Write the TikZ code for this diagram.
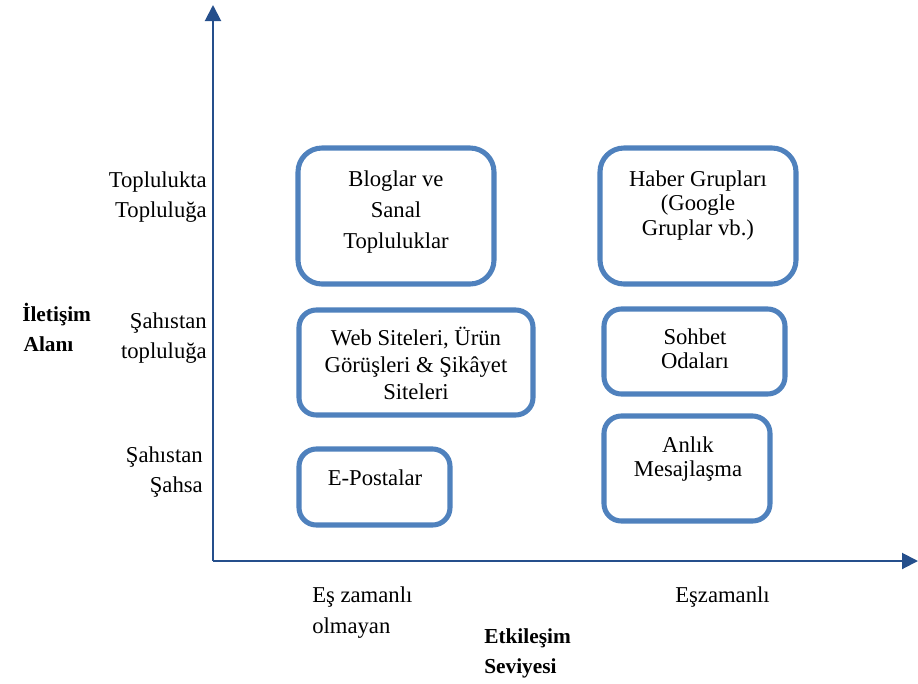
\documentclass[tikz,border=0pt]{standalone}
\usepackage{fontspec}
\setmainfont{Liberation Serif}
\usetikzlibrary{arrows.meta,fit}
\definecolor{boxblue}{RGB}{79,129,189}
\definecolor{axisblue}{RGB}{37,79,140}
\begin{document}
\begin{tikzpicture}[x=0.75pt,y=-0.75pt,
  cell/.style={draw=boxblue,line width=3.8pt,rounded corners=18pt,inner sep=0pt},
  smallcell/.style={cell,rounded corners=13pt},
  axis/.style={draw=axisblue,line width=1.5pt,-{Triangle[width=12pt,length=12pt]}},
  txt/.style={inner sep=0pt,align=center,font=\fontsize{17}{#1}\selectfont},
  txt/.default=22,
  lbl/.style={inner sep=0pt,align=right,anchor=east,font=\fontsize{17}{22.5}\selectfont},
  bold/.style={inner sep=0pt,align=left,font=\fontsize{16}{23}\selectfont\bfseries}]
\useasboundingbox (0,0) rectangle (918,683);
% axes
\coordinate (O) at (213,561);
\coordinate (ytip) at (213,5);
\coordinate (xtip) at (918,561);
\draw[axis] (O) -- (ytip);
\draw[axis] (O) -- (xtip);
% boxes
\node[cell,fit={(298,148)(494,284)}] (blog) {};
\node[cell,fit={(600,148)(796,284)}] (haber) {};
\node[smallcell,fit={(299,310)(533,415)}] (web) {};
\node[smallcell,fit={(299,449)(450,525)}] (email) {};
\node[smallcell,fit={(604,309)(785,394)}] (sohbet) {};
\node[smallcell,fit={(604,416)(770,521)}] (anlik) {};
% box texts
\node[txt=23.25] (tblog) at (396,212) {Bloglar ve\\Sanal\\Topluluklar};
\node[txt=18.4] (thaber) at (698,205.5) {Haber Grupları\\(Google\\Gruplar vb.)};
\node[txt=20.3] (tweb) at (416,363.5) {Web Siteleri, Ürün\\Görüşleri \& Şikâyet\\Siteleri};
\node[txt] (temail) at (375,478) {E-Postalar};
\node[txt=18] (tsohbet) at (695,349) {Sohbet\\Odaları};
\node[txt=18] (tanlik) at (688,459) {Anlık\\Mesajlaşma};
% y-axis labels
\node[lbl] (y1) at (207,197) {Toplulukta\\Topluluğa};
\node[lbl] (y2) at (207,338) {Şahıstan\\topluluğa};
\node[lbl] (y3) at (203,472.5) {Şahıstan\\Şahsa};
\node[bold,anchor=west] (ytitle) at (22,327.5) {İletişim\\\hspace*{1pt}Alanı};
% x-axis labels
\node[inner sep=0pt,align=left,anchor=west,font=\fontsize{17}{23.25}\selectfont] (x1) at (312,612.5) {Eş zamanlı\\olmayan};
\node[inner sep=0pt,anchor=west,font=\fontsize{17}{22}\selectfont] (x2) at (675,597) {Eşzamanlı};
\node[bold,anchor=west] (xtitle) at (484,653.5) {Etkileşim\\Seviyesi};
\end{tikzpicture}
\end{document}
